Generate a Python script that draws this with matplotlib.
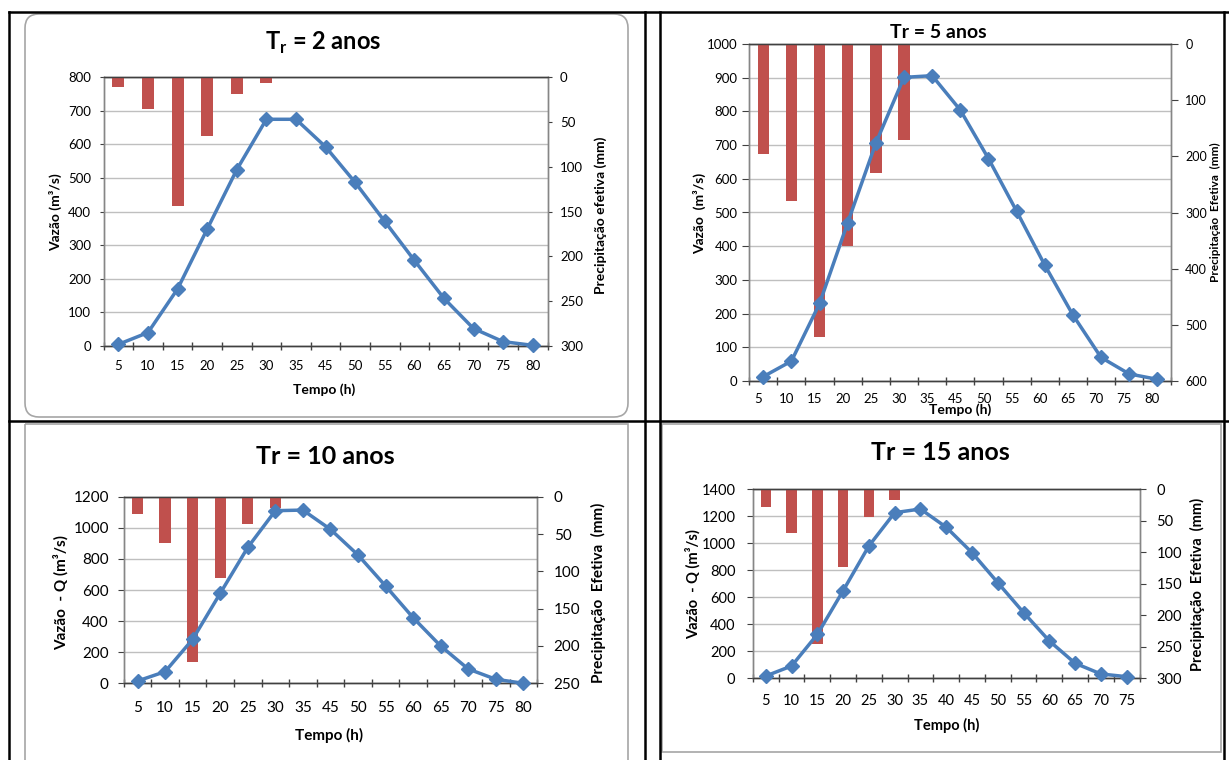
import numpy as np
import matplotlib.pyplot as plt
from matplotlib.lines import Line2D
from matplotlib.patches import FancyBboxPatch, Rectangle
from matplotlib.transforms import Affine2D, ScaledTranslation

plt.rcParams['font.family'] = ['Lato', 'DejaVu Sans']

W, H = 1229, 760

# categories on the time axis (note: 40 is missing in the first three charts)
tempo_a = ['5', '10', '15', '20', '25', '30', '35', '45', '50', '55',
           '60', '65', '70', '75', '80']
tempo_b = ['5', '10', '15', '20', '25', '30', '35', '40', '45', '50',
           '55', '60', '65', '70', '75']

# Tr = 2 anos
vazao_2 = [5, 40, 170, 348, 525, 675, 675, 593, 487, 371, 255, 142, 52, 13, 2]
chuva_2 = [11, 35, 144, 66, 19, 6]

# Tr = 5 anos
vazao_5 = [13, 59, 230, 470, 706, 901, 906, 804, 660, 504, 344, 196, 70, 21, 5]
chuva_5 = [196, 279, 521, 360, 229, 171]

# Tr = 10 anos
vazao_10 = [15, 75, 283, 579, 874, 1110, 1114, 990, 825, 626, 422, 240, 92, 26, 0]
chuva_10 = [23, 62, 222, 109, 37, 15]

# Tr = 15 anos
vazao_15 = [17, 91, 325, 648, 979, 1225, 1252, 1117, 929, 707, 486, 276, 111, 32, 12]
chuva_15 = [28, 70, 245, 124, 44, 18]

BLUE = '#4A7EBB'
RED = '#C0504D'
GRID = '#BFBFBF'
SPINE = '#868686'

fig = plt.figure(figsize=(W / 100, H / 100), dpi=100)
# pixel coordinates, y pointing down
px = Affine2D().scale(1 / 100, -1 / 100).translate(0, H / 100) + fig.dpi_scale_trans


def panel(box, cats, q, p, qmax, qstep, pmax, pstep, fs, xpad, ypad, rpad,
          ylen=3, xshift=0, rfs=None):
    l, t, r, b = box
    n = len(cats)
    x = np.arange(n)
    ax = fig.add_axes([l / W, 1 - b / H, (r - l) / W, (b - t) / H])
    ax.set_xlim(-0.5, n - 0.5)
    ax.set_ylim(0, qmax)
    ax.set_yticks(np.arange(0, qmax + 1, qstep))
    ax.grid(axis='y', color=GRID, lw=1)
    ax.set_axisbelow(True)
    ax.set_xticks(x)
    ax.set_xticklabels(cats)
    ax.set_xticks(np.arange(-0.5, n, 1), minor=True)
    ax.tick_params(axis='x', which='major', length=0, pad=xpad, labelsize=fs)
    ax.tick_params(axis='x', which='minor', length=6, width=1,
                   direction='inout', color='#404040')
    ax.tick_params(axis='y', length=ylen, color='#404040', pad=ypad, labelsize=fs)
    if xshift:
        for lbl in ax.get_xticklabels():
            lbl.set_transform(lbl.get_transform()
                              + ScaledTranslation(xshift / 100, 0, fig.dpi_scale_trans))

    ax2 = ax.twinx()
    ax2.bar(x[:len(p)], p, width=0.41, color=RED, zorder=2)
    ax2.set_ylim(pmax, 0)
    ax2.set_yticks(np.arange(0, pmax + 1, pstep))
    ax2.tick_params(axis='y', length=ylen, color='#404040', pad=rpad,
                    labelsize=rfs or fs)

    ax3 = ax.twinx()
    ax3.set_ylim(0, qmax)
    ax3.plot(x, q, color=BLUE, lw=2.5, marker='D', ms=7, clip_on=False, zorder=3)
    ax3.set_axis_off()

    ax.set_zorder(0)
    ax2.set_zorder(1)
    ax3.set_zorder(2)
    ax2.patch.set_visible(False)
    ax3.patch.set_visible(False)
    for a in (ax, ax2):
        for s in a.spines.values():
            s.set_color(SPINE)
            s.set_linewidth(1)
        a.spines['top'].set_color('#404040')
        a.spines['bottom'].set_color('#404040')
    return ax


def label(x, y, s, fs, rot=0):
    fig.text(x, y, s, transform=px, fontsize=fs, fontweight='bold',
             rotation=rot, ha='center', va='center')


# table borders and frames
for x0, y0, x1, y1 in [(9, 12, 1229, 12), (9, 12, 9, 760), (645, 12, 645, 760),
                       (660, 12, 660, 760), (9, 421, 1229, 421),
                       (1224, 12, 1224, 760)]:
    fig.add_artist(Line2D([x0, x1], [y0, y1], color='black', lw=1.8,
                          transform=px))
fig.add_artist(FancyBboxPatch((25, 14), 603, 403,
                              boxstyle='round,pad=0,rounding_size=14',
                              fc='none', ec='#A6A6A6', lw=1.2, transform=px))
fig.add_artist(Rectangle((25, 424), 603, 345, fc='none', ec='#A6A6A6',
                         lw=1.2, transform=px))
fig.add_artist(Rectangle((662, 424), 559, 328, fc='none', ec='#A6A6A6',
                         lw=1.2, transform=px))

# Tr = 2 anos
panel((103.6, 77.3, 547.5, 346), tempo_a, vazao_2, chuva_2, 800, 100, 300, 50,
      fs=9.5, xpad=10, ypad=6, rpad=6)
fig.text(323, 43, r'T$_\mathregular{r}$ = 2 anos', transform=px, fontsize=17,
         fontweight='bold', ha='center', va='center')
label(56, 212, 'Vazão (m³/s)', 10, 90)
label(601, 215, 'Precipitação efetiva (mm)', 10, 90)
label(324, 390, 'Tempo (h)', 10)

# Tr = 5 anos
panel((749.2, 44, 1171.4, 381), tempo_a, vazao_5, chuva_5, 1000, 100, 600, 100,
      fs=9.5, xpad=9, ypad=3.5, rpad=5, ylen=5, xshift=-5, rfs=9)
fig.text(938, 33, 'Tr = 5 anos', transform=px, fontsize=14,
         fontweight='bold', ha='center', va='center')
label(700, 213, 'Vazão  (m³/s)', 10, 90)
label(1215, 212, 'Precipitação  Efetiva  (mm)', 8.5, 90)
label(960, 410, 'Tempo (h)', 10)

# Tr = 10 anos
panel((123.8, 496.7, 537.1, 683.3), tempo_a, vazao_10, chuva_10, 1200, 200, 250, 50,
      fs=11, xpad=13, ypad=6.8, rpad=7.9, ylen=4)
fig.text(325, 456, 'Tr = 10 anos', transform=px, fontsize=18,
         fontweight='bold', ha='center', va='center')
label(61, 592, 'Vazão  - Q (m³/s)', 11, 90)
label(598, 593, 'Precipitação  Efetiva  (mm)', 11, 90)
label(329, 735, 'Tempo (h)', 11)

# Tr = 15 anos
panel((752.9, 489, 1139.6, 678.3), tempo_b, vazao_15, chuva_15, 1400, 200, 300, 50,
      fs=10.5, xpad=11, ypad=8.6, rpad=8, ylen=4)
fig.text(940, 453, 'Tr = 15 anos', transform=px, fontsize=18,
         fontweight='bold', ha='center', va='center')
label(693, 584, 'Vazão  - Q (m³/s)', 10.5, 90)
label(1197, 584, 'Precipitação  Efetiva  (mm)', 10.5, 90)
label(947, 725, 'Tempo (h)', 10.5)

fig.savefig('out.png', dpi=100)
